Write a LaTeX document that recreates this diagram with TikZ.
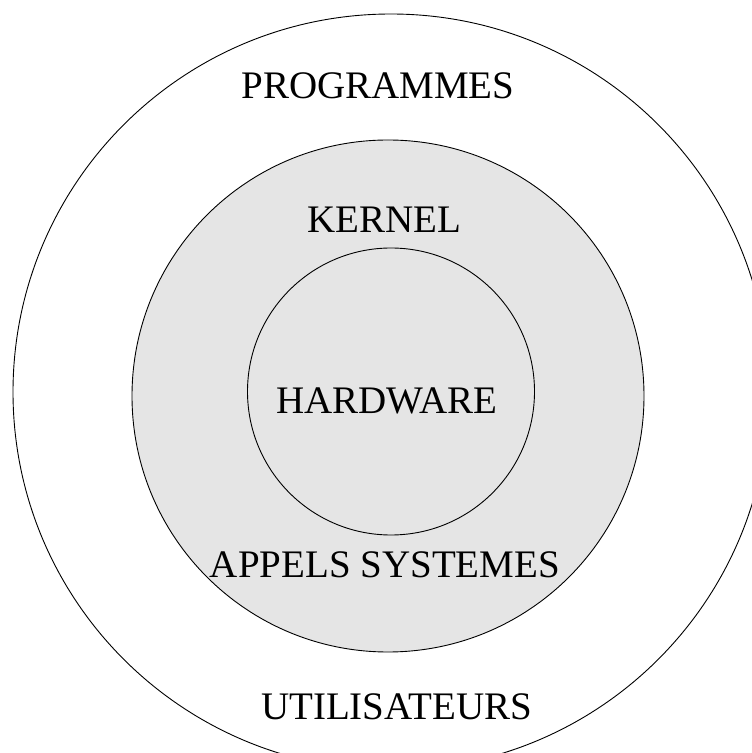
\documentclass[tikz,border=0pt]{standalone}
\usepackage{fontspec}
\setmainfont{Liberation Serif}
\definecolor{layergray}{HTML}{E5E5E5}

\begin{document}
\begin{tikzpicture}[x=1pt, y=1pt,
        ring/.style={draw, line width=0.9pt},
        lbl/.style={anchor=base, inner sep=0pt, font=\fontsize{39}{44}\selectfont}]
        \useasboundingbox (0, 0) rectangle (752, 753);
        \clip (0, 0) rectangle (752, 753);
        \coordinate (Co) at (391, 361);
        \coordinate (Ck) at (388, 357);
        \coordinate (Ch) at (391, 361.5);
        \draw[ring] (Co) circle (378);
        \draw[ring, fill=layergray] (Ck) circle (256);
        \draw[ring, fill=layergray] (Ch) circle (143.5);
        \node[lbl] (prog) at (378, 654.7) {PROGRAMMES};
        \node[lbl] (kern) at (384.5, 520.3) {KERNEL};
        \node[lbl] (hard) at (387, 339) {HARDWARE};
        \node[lbl] (appl) at (385, 175) {APPELS SYSTEMES};
        \node[lbl] (util) at (396.6, 33.2) {UTILISATEURS};
    \end{tikzpicture}
\end{document}
